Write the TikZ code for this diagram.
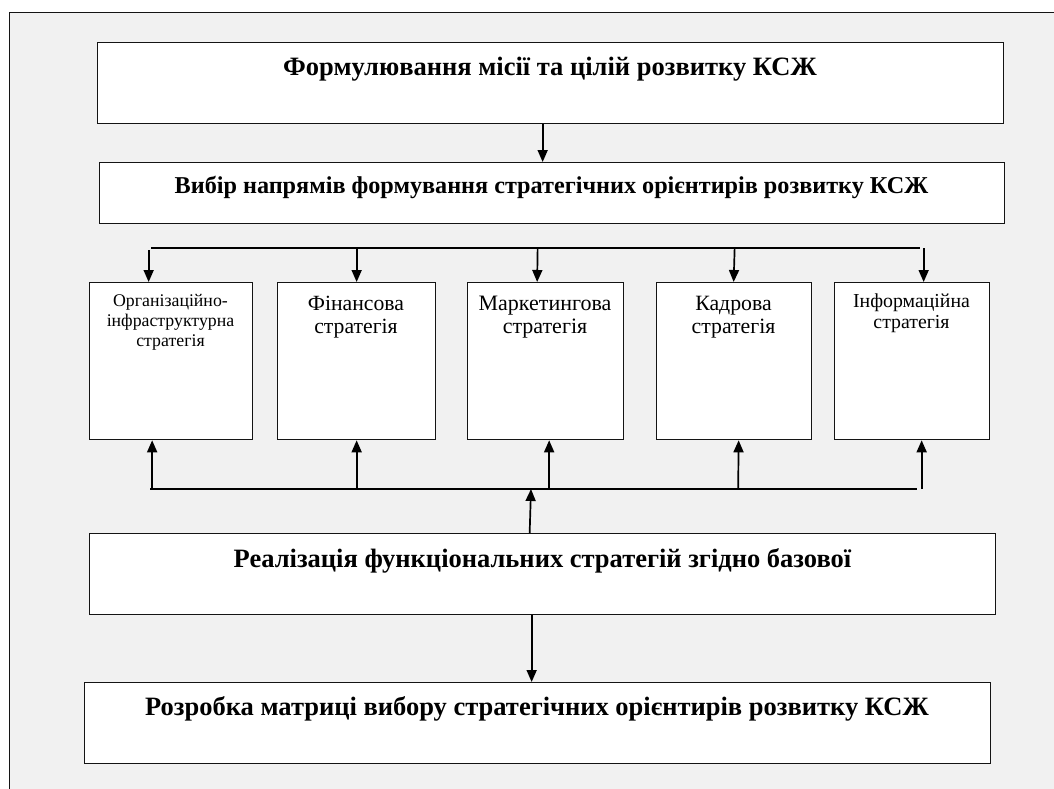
\documentclass[tikz,border=0pt]{standalone}
\usepackage{fontspec}
\setmainfont{Liberation Serif}
\usetikzlibrary{arrows.meta}
\definecolor{bgfill}{RGB}{241,241,241}
\definecolor{edge}{RGB}{20,20,20}
\tikzset{
  box/.style={draw=edge, line width=1.3pt, fill=white, inner sep=0pt, anchor=north west},
  bigtxt/.style={font=\bfseries\fontsize{26.5}{30}\selectfont, anchor=base, inner sep=0pt},
  midtxt/.style={font=\bfseries\fontsize{24.2}{28}\selectfont, anchor=base, inner sep=0pt},
  stxt/.style={align=center, anchor=north, inner sep=0pt},
  arr/.style={line width=1.7pt, -{Triangle[length=12pt,width=10pt]}},
  bus/.style={line width=1.7pt}
}
\begin{document}
\begin{tikzpicture}[x=1pt,y=-1pt]
\useasboundingbox (0,0) rectangle (1054,789);
% frame
\fill[bgfill] (9,13) rectangle (1054,789);
\draw[line width=1pt, edge] (9,789) -- (9,13) -- (1054,13);

% main boxes
\node[box, minimum width=906pt, minimum height=81pt] (f1) at (97,42) {};
\node[box, minimum width=905pt, minimum height=61pt] (f2) at (99,162) {};
\node[box, minimum width=906pt, minimum height=81pt] (f3) at (89,533) {};
\node[box, minimum width=906pt, minimum height=81pt] (f4) at (84,682) {};

\node[bigtxt] (t1) at (550,76) {Формулювання місії та цілій розвитку КСЖ};
\node[midtxt] (t2) at (551.5,193) {Вибір напрямів формування стратегічних орієнтирів розвитку КСЖ};
\node[bigtxt] (t3) at (542.5,567) {Реалізація функціональних стратегій згідно базової};
\node[bigtxt] (t4) at (537,715) {Розробка матриці вибору стратегічних орієнтирів розвитку КСЖ};

% strategy boxes
\node[box, minimum width=163pt, minimum height=157pt] (sA) at (89,282) {};
\node[box, minimum width=158pt, minimum height=157pt] (sB) at (277,282) {};
\node[box, minimum width=156pt, minimum height=157pt] (sC) at (467,282) {};
\node[box, minimum width=155pt, minimum height=157pt] (sD) at (656,282) {};
\node[box, minimum width=155pt, minimum height=157pt] (sE) at (834,282) {};

\node[stxt, font=\fontsize{17.8}{20}\selectfont] (lA) at (170.5,294) {Організаційно-\\інфраструктурна\\стратегія};
\node[stxt, font=\fontsize{21.7}{23}\selectfont] (lB) at (356,296) {Фінансова\\стратегія};
\node[stxt, font=\fontsize{22}{23}\selectfont] (lC) at (545,296) {Маркетингова\\стратегія};
\node[stxt, font=\fontsize{21.8}{23}\selectfont] (lD) at (733.5,296) {Кадрова\\стратегія};
\node[stxt, font=\fontsize{19.8}{21}\selectfont] (lE) at (911.5,294) {Інформаційна\\стратегія};

% top connector
\draw[arr] ([xshift=-8pt]f1.south) -- ([xshift=-9.5pt]f2.north);

% upper bus
\coordinate (ub1) at (151,248);
\coordinate (ub2) at (920,248);
\draw[bus] (ub1) -- (ub2);
\draw[arr] ([xshift=-22.5pt]sA.north |- ub1) ++(0,2) -- ([xshift=-22.5pt]sA.north);
\draw[arr] (sB.north |- ub1) -- (sB.north);
\draw[arr] ([xshift=-8pt]sC.north |- ub1) -- ([xshift=-8.5pt]sC.north);
\draw[arr] ([xshift=0.5pt]sD.north |- ub1) -- ([xshift=-0.5pt]sD.north);
\draw[arr] ([xshift=11.5pt]sE.north |- ub2) -- ([xshift=11.5pt]sE.north);

% lower bus
\coordinate (lb1) at (150,489);
\coordinate (lb2) at (917,489);
\draw[bus] (lb1) -- (lb2);
\draw[arr] ([xshift=-19pt]sA.south |- lb1) -- ([xshift=-19pt]sA.south);
\draw[arr] (sB.south |- lb1) -- (sB.south);
\draw[arr] ([xshift=3.5pt]sC.south |- lb1) -- ([xshift=3.5pt]sC.south);
\draw[arr] ([xshift=4pt]sD.south |- lb1) -- ([xshift=4.5pt]sD.south);
\draw[arr] ([xshift=9.5pt]sE.south |- lb2) -- ([xshift=9.5pt]sE.south);

% f3 to bus, f3 to f4
\coordinate (lbm) at (531,489);
\draw[arr] ([xshift=-13pt]f3.north) -- (lbm);
\draw[arr] ([xshift=-11pt]f3.south) -- ([xshift=-6pt]f4.north);
\end{tikzpicture}
\end{document}
